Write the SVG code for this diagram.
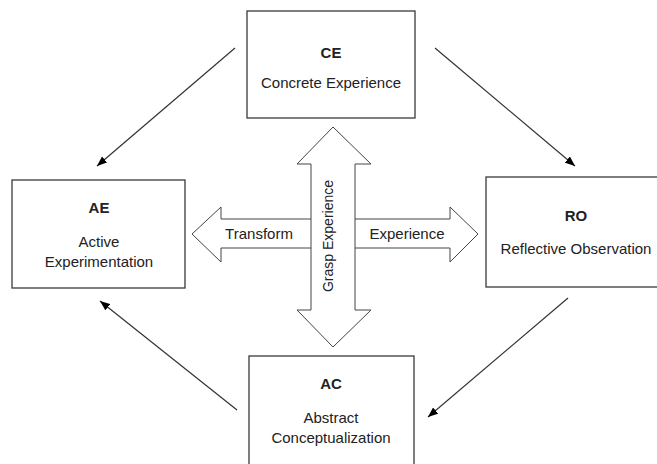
<svg xmlns="http://www.w3.org/2000/svg" width="657" height="464" viewBox="0 0 657 464">
<style>
.box{fill:#fff;stroke:#3a3a3a;stroke-width:1.3}
.t{font-family:"Liberation Sans",Arial,sans-serif;font-size:15px;fill:#222;text-anchor:middle}
.b{font-weight:bold}
.big{fill:#fff;stroke:#444;stroke-width:1}
.con{stroke:#333;stroke-width:1.2;fill:none;marker-end:url(#ah)}
</style>
<defs>
<marker id="ah" viewBox="0 0 10 8" refX="10" refY="4" markerWidth="10" markerHeight="8" markerUnits="userSpaceOnUse" orient="auto">
<path d="M0,0 L10,4 L0,8 Z" fill="#000"/>
</marker>
</defs>
<rect width="657" height="464" fill="#fff"/>
<g id="connectors">
<line class="con" x1="235" y1="48" x2="97" y2="166"/>
<line class="con" x1="435" y1="48" x2="575" y2="166"/>
<line class="con" x1="568" y1="298" x2="428" y2="417"/>
<line class="con" x1="237" y1="410" x2="100" y2="301"/>
</g>
<g id="CE">
<rect class="box" x="247" y="11" width="168" height="107"/>
<text class="t b" x="331" y="58">CE</text>
<text class="t" x="331" y="88">Concrete Experience</text>
</g>
<g id="AE">
<rect class="box" x="12" y="180" width="173" height="108"/>
<text class="t b" x="99" y="213">AE</text>
<text class="t" x="99" y="247">Active</text>
<text class="t" x="99" y="267">Experimentation</text>
</g>
<g id="RO">
<rect class="box" x="486" y="177" width="185" height="110"/>
<text class="t b" x="576" y="221">RO</text>
<text class="t" x="576" y="254">Reflective Observation</text>
</g>
<g id="AC">
<rect class="box" x="249" y="356" width="165" height="120"/>
<text class="t b" x="331" y="389">AC</text>
<text class="t" x="331" y="423">Abstract</text>
<text class="t" x="331" y="443">Conceptualization</text>
</g>
<g id="horizontal-arrow">
<path class="big" d="M192,234 L221,207 L221,219 L450,219 L450,207 L478,234 L450,262 L450,248 L221,248 L221,262 Z"/>
<text class="t" x="259" y="239">Transform</text>
<text class="t" x="407" y="239">Experience</text>
</g>
<g id="vertical-arrow">
<path class="big" d="M333,127 L371,164 L355,164 L355,310 L371,310 L333,347 L297,310 L311,310 L311,164 L297,164 Z"/>
<text class="t" style="font-size:14px" transform="translate(333,236) rotate(-90)">Grasp Experience</text>
</g>
</svg>
